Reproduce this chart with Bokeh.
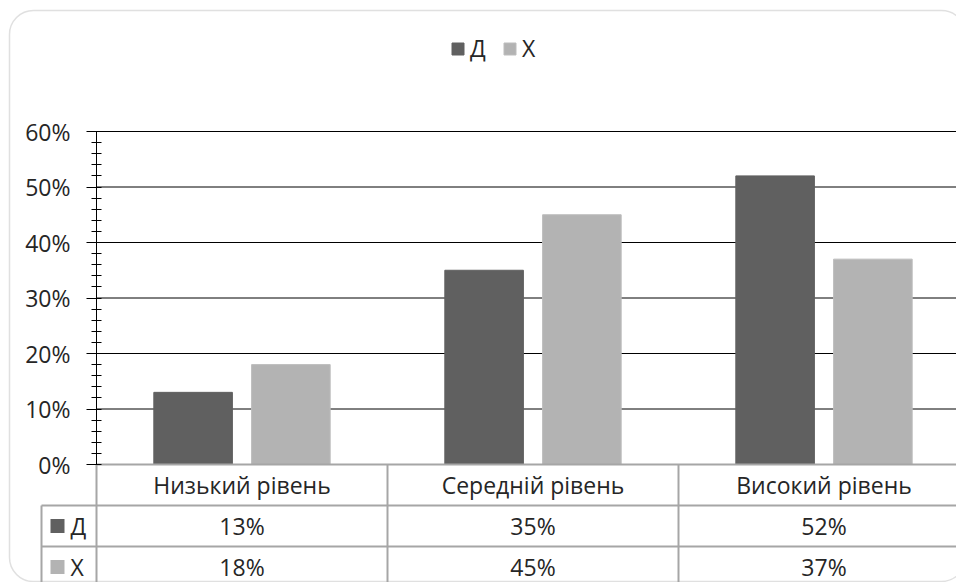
from bokeh.plotting import figure
from bokeh.models import (Range1d, FixedTicker, NumeralTickFormatter, Legend,
                          LegendItem, BoxAnnotation, ColumnDataSource)
from bokeh.core.properties import value
from bokeh.embed import file_html
from bokeh.resources import INLINE

# ---- data ----
categories = ["Низький рівень", "Середній рівень", "Високий рівень"]
series_names = ["Д", "Х"]
d_values = [0.13, 0.35, 0.52]
x_values = [0.18, 0.45, 0.37]
y_ticks = [0.0, 0.1, 0.2, 0.3, 0.4, 0.5, 0.6]

# ---- styles ----
FONT = "Open Sans"
FS = "23px"
TEXT_COLOR = "#262626"
DARK = "#606060"
LIGHT = "#b3b3b3"
TABLE_LINE = "#a6a6a6"

W, H = 956, 582
axis_px = 96      # x pixel of value axis
cat_px = 291      # pixel width of one category
base_px = 464     # pixel y of 0% from top
unit_px = 555     # pixels per 100%
row_px = 41       # table row height

def xd(px):
    return (px - axis_px) / cat_px

def yd(px):
    return (base_px - px) / unit_px

rowh = row_px / unit_px
x_start, x_end = xd(0), xd(W)
y_top, y_bot = yd(0), yd(H)

p = figure(width=W, height=H, x_range=Range1d(x_start, x_end),
           y_range=Range1d(y_bot, y_top), output_backend="svg",
           toolbar_location=None, min_border=0, x_axis_location=None,
           background_fill_color="white", border_fill_color="white")
p.outline_line_color = None
p.xgrid.visible = False
p.ygrid.visible = False

# card border
p.add_layout(BoxAnnotation(left=xd(9), right=xd(965), top=yd(10), bottom=yd(581),
                           fill_color=None, line_color="#999999", line_width=1.5,
                           border_radius=24, level="underlay"))

# gridlines (0 line is the table top)
grid_y = [t for t in y_ticks if t > 0]
p.segment(x0=0, x1=x_end, y0=grid_y, y1=grid_y, line_color="#000000", line_width=1)

n = len(categories)
idx = list(range(n))
offset = 0.168
bw = 0.27
src_d = ColumnDataSource(dict(x=[i + 0.5 - offset for i in idx], top=d_values))
src_x = ColumnDataSource(dict(x=[i + 0.5 + offset for i in idx], top=x_values))
r_d = p.vbar(x="x", top="top", bottom=0, width=bw, source=src_d,
             fill_color=DARK, line_color=DARK)
r_x = p.vbar(x="x", top="top", bottom=0, width=bw, source=src_x,
             fill_color=LIGHT, line_color="#bdbdbd")

# y axis
ax = p.yaxis[0]
ax.fixed_location = 0
ax.bounds = (0, 0.6)
ax.ticker = FixedTicker(ticks=y_ticks, minor_ticks=[i * 0.02 for i in range(31)])
ax.formatter = NumeralTickFormatter(format="0%")
ax.axis_line_color = "black"
ax.major_tick_line_color = "black"
ax.minor_tick_line_color = "black"
ax.major_tick_out = 10
ax.major_tick_in = 0
ax.minor_tick_out = 5
ax.minor_tick_in = 5
ax.major_label_standoff = 16
ax.major_label_text_font = FONT
ax.major_label_text_font_size = FS
ax.major_label_text_color = TEXT_COLOR

# ---- data table ----
left_col = xd(41)
p.segment(x0=0, x1=x_end, y0=0, y1=0, line_color=TABLE_LINE, line_width=2)
p.segment(x0=left_col, x1=x_end, y0=[-rowh, -2 * rowh], y1=[-rowh, -2 * rowh],
          line_color=TABLE_LINE, line_width=2)
vx = [0] + [i + 1 for i in idx]
p.segment(x0=vx, x1=vx, y0=0, y1=y_bot, line_color=TABLE_LINE, line_width=2)
p.segment(x0=left_col, x1=left_col, y0=-rowh, y1=y_bot, line_color=TABLE_LINE, line_width=2)

centers = [i + 0.5 for i in idx]
p.text(x=centers, y=[-rowh / 2] * n, text=categories, text_align="center",
       text_baseline="middle", text_font=value(FONT), text_font_size=FS,
       text_color=TEXT_COLOR)
for r, vals in enumerate([d_values, x_values]):
    yy = -rowh * (r + 1.5)
    p.text(x=centers, y=[yy] * n, text=[f"{round(v * 100)}%" for v in vals],
           text_align="center", text_baseline="middle", text_font=value(FONT),
           text_font_size=FS, text_color=TEXT_COLOR)
key_y = [-rowh * 1.5, -rowh * 2.5]
p.scatter(x=[xd(57)] * 2, y=key_y, marker="square", size=14,
          fill_color=[DARK, LIGHT], line_color=None)
p.text(x=[xd(70)] * 2, y=key_y, text=series_names, text_align="left",
       text_baseline="middle", text_font=value(FONT), text_font_size=FS,
       text_color=TEXT_COLOR)

# legend
legend = Legend(items=[LegendItem(label=series_names[0], renderers=[r_d]),
                       LegendItem(label=series_names[1], renderers=[r_x])],
                orientation="horizontal", location=(450, 518),
                glyph_width=15, glyph_height=15, label_standoff=5, spacing=12,
                padding=0, margin=0, border_line_color=None,
                background_fill_alpha=0, label_text_font=FONT,
                label_text_font_size=FS, label_text_color=TEXT_COLOR)
p.add_layout(legend)

open("out.html", "w").write(file_html(p, INLINE))
